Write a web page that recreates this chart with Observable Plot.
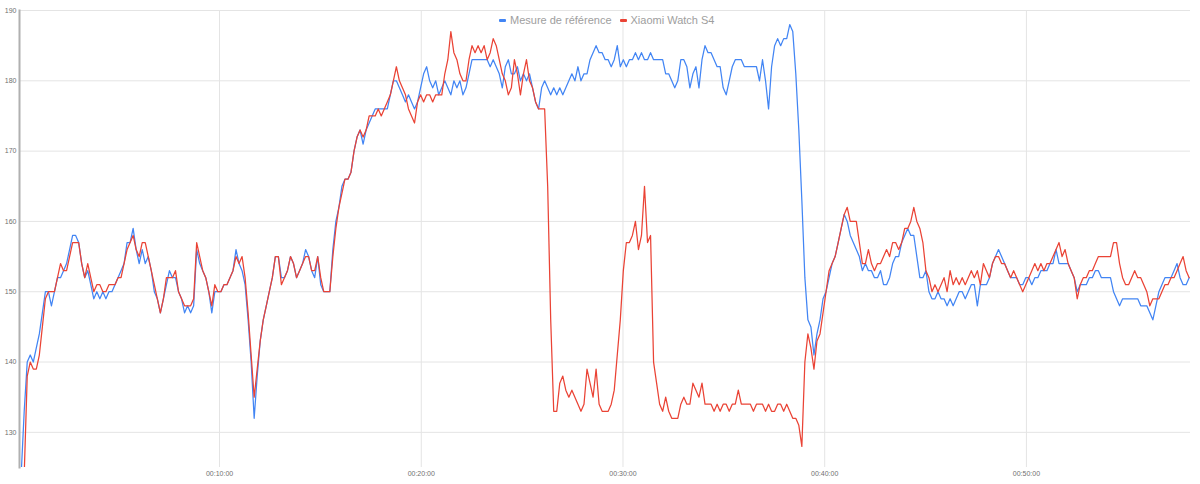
<!DOCTYPE html>
<html>
<head>
<meta charset="utf-8">
<script src="https://cdn.jsdelivr.net/npm/d3@7"></script>
<script src="https://cdn.jsdelivr.net/npm/@observablehq/plot@0.6"></script>
<style>
  body { margin: 0; background: #fff; }
  #wrap { position: relative; width: 1200px; height: 484px; }
  #legend { position: absolute; top: 14px; left: 499px; display: flex; align-items: center;
            font-family: "Liberation Sans", Arial, sans-serif; font-size: 11px; color: #9e9e9e; white-space: nowrap; }
  .sw { display: inline-block; width: 7px; height: 3px; border-radius: 1px; margin-right: 4px; }
  .item { display: flex; align-items: center; margin-right: 8px; }
</style>
</head>
<body>
<div id="wrap">
  <div id="chart"></div>
  <div id="legend"></div>
</div>
<script>
// Series names
const seriesNames = ["Mesure de référence", "Xiaomi Watch S4"];
const seriesColors = ["#4285F4", "#EA4335"];

// Sampling: first sample time (s) and sampling step (s)
const firstSampleSec = 10;
const sampleStepSec = 9;

// Heart rate, reference measure (bpm)
const refHR = [
  124,133,140,141,140,142,144,147,150,150,
  148,150,152,152,153,154,156,158,158,157,
  154,152,153,151,149,150,149,150,149,150,
  150,151,152,153,154,157,157,159,156,154,
  156,154,155,153,150,149,147,149,151,153,
  152,152,150,149,147,148,147,148,156,154,
  153,152,150,147,150,150,150,151,151,152,
  153,156,154,153,151,146,140,132,138,143,
  146,148,150,152,155,155,152,152,153,155,
  154,152,153,154,156,155,153,152,155,151,
  150,150,150,156,160,162,165,166,166,167,
  170,172,173,171,173,174,175,176,176,176,
  176,176,178,180,180,179,178,177,178,177,
  176,177,179,181,182,180,179,180,178,179,
  180,179,178,180,179,180,178,179,181,183,
  183,183,183,183,183,182,183,182,181,179,
  182,183,181,181,182,180,181,180,181,179,
  177,176,179,180,179,178,179,178,179,178,
  179,180,181,180,182,180,181,181,183,184,
  185,184,184,183,183,182,183,185,182,183,
  182,183,183,184,183,184,183,183,184,183,
  183,183,183,181,181,180,179,180,183,183,
  182,179,181,182,179,183,185,184,184,183,
  182,182,179,178,180,182,183,183,183,182,
  182,182,182,182,180,183,180,176,182,185,
  186,185,186,186,188,187,181,173,163,152,
  146,145,141,144,146,149,150,152,154,155,
  157,159,161,160,158,157,156,155,153,154,
  153,153,152,152,153,151,151,152,154,155,
  155,157,158,159,158,158,155,152,152,153,
  150,149,149,150,149,149,148,149,148,149,
  150,150,149,150,151,151,148,151,151,151,
  152,154,155,156,155,154,153,152,152,152,
  151,151,152,152,151,152,152,153,153,153,
  154,154,156,154,154,154,154,153,152,150,
  151,151,151,152,152,153,153,152,152,152,
  152,150,149,148,149,149,149,149,149,149,
  148,148,148,147,146,148,150,151,152,152,
  152,153,154,152,151,151,152
];

// Heart rate, Xiaomi Watch S4 (bpm)
const watchHR = [
  123,124,138,140,139,139,141,145,149,150,
  150,150,152,154,153,153,155,157,157,157,
  154,152,154,152,150,151,151,150,150,151,
  151,151,152,152,154,156,157,158,156,155,
  157,157,155,153,151,149,147,149,152,152,
  152,153,150,149,148,148,148,149,157,155,
  153,152,150,148,151,150,150,151,151,152,
  153,155,154,155,152,147,141,135,139,143,
  146,148,150,152,155,155,151,152,153,155,
  154,152,153,154,155,155,153,153,155,152,
  150,150,150,155,159,162,164,166,166,167,
  170,172,173,172,173,175,175,175,176,175,
  176,177,178,180,182,180,179,178,176,175,
  174,177,178,177,178,178,177,178,178,178,
  181,183,187,184,183,181,180,180,183,185,
  184,185,184,185,183,184,186,185,183,181,
  180,178,179,183,181,178,181,183,180,179,
  177,176,176,176,165,146,133,133,137,138,
  136,135,136,135,134,133,134,139,137,135,
  139,134,133,133,133,134,136,141,146,153,
  157,157,158,160,156,158,165,157,158,140,
  137,134,133,135,133,132,132,132,134,135,
  134,134,137,136,135,137,134,134,134,133,
  134,133,134,134,133,134,134,136,134,134,
  134,134,133,134,134,134,133,134,133,133,
  134,134,133,134,133,132,132,131,128,140,
  144,142,139,143,144,147,150,153,154,155,
  157,159,161,162,160,160,160,157,154,154,
  156,154,153,154,154,155,156,155,157,157,
  156,157,159,159,160,162,160,159,157,153,
  152,150,151,150,151,152,150,153,151,152,
  151,152,151,152,153,152,153,151,154,153,
  152,154,155,155,154,154,153,152,153,152,
  151,150,151,152,153,154,153,154,153,154,
  154,155,156,157,155,156,154,153,152,149,
  151,152,152,153,153,154,155,155,155,155,
  155,157,157,154,152,151,151,152,153,152,
  152,151,150,148,149,149,149,150,151,151,
  152,152,153,154,155,153,152
];

// Axis ticks
const xTicksSec = [600, 1200, 1800, 2400, 3000];
const yTicks = [130, 140, 150, 160, 170, 180, 190];
const xDomainSec = [5, 3488];
const yDomain = [125, 190];

const toRows = (arr, name) => arr.map((v, i) => ({ t: firstSampleSec + i * sampleStepSec, v, series: name }));
const refRows = toRows(refHR, seriesNames[0]);
const watchRows = toRows(watchHR, seriesNames[1]);

const pad = n => String(n).padStart(2, "0");
const fmtTime = s => `${pad(Math.floor(s / 3600))}:${pad(Math.floor((s % 3600) / 60))}:${pad(s % 60)}`;

const chart = Plot.plot({
  width: 1200,
  height: 484,
  marginLeft: 19,
  marginRight: 10,
  marginTop: 10,
  marginBottom: 17,
  style: { fontFamily: "'Liberation Sans', Arial, sans-serif", fontSize: "7px", color: "#666", background: "#fff" },
  x: { domain: xDomainSec, label: null },
  y: { domain: yDomain, label: null },
  color: { domain: seriesNames, range: seriesColors },
  marks: [
    Plot.gridX(xTicksSec, { stroke: "#e4e4e4", strokeOpacity: 1, strokeWidth: 1 }),
    Plot.gridY(yTicks, { stroke: "#e4e4e4", strokeOpacity: 1, strokeWidth: 1 }),
    Plot.axisX(xTicksSec, { tickSize: 0, tickPadding: 4, tickFormat: fmtTime, label: null, fill: "#707070" }),
    Plot.axisY(yTicks, { tickSize: 0, tickPadding: 3, label: null, fill: "#707070" }),
    Plot.lineY(refRows, { x: "t", y: "v", stroke: "series", strokeWidth: 1.25, clip: true }),
    Plot.lineY(watchRows, { x: "t", y: "v", stroke: "series", strokeWidth: 1.25, clip: true }),
    Plot.frame({ anchor: "left", stroke: "#b0b0b0", strokeWidth: 2 })
  ]
});
document.getElementById("chart").appendChild(chart);

const legend = document.getElementById("legend");
seriesNames.forEach((name, i) => {
  const item = document.createElement("span");
  item.className = "item";
  const sw = document.createElement("span");
  sw.className = "sw";
  sw.style.background = seriesColors[i];
  item.appendChild(sw);
  item.appendChild(document.createTextNode(name));
  legend.appendChild(item);
});
</script>
</body>
</html>
